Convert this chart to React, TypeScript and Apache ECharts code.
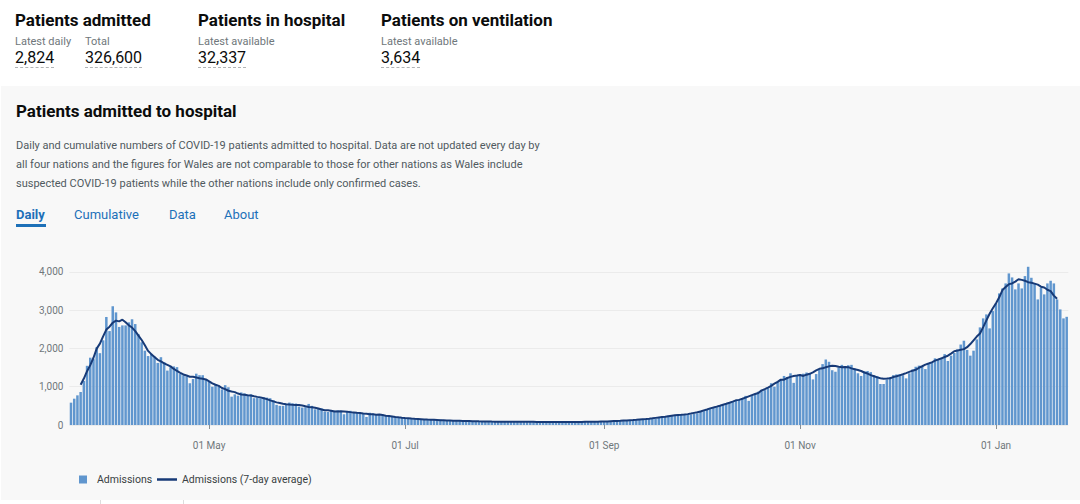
import React, { useEffect, useRef } from "react";
import * as echarts from "echarts";

// Daily admissions, 19 Mar 2020 – 23 Jan 2021
const mar = [583, 687, 774, 861, 1150, 1545, 1757, 1720, 2030, 1875, 2210, 2820, 2452];
const apr = [3100, 2940, 2560, 2600, 2600, 2680, 2760, 2635, 2370, 2160, 1940, 1800, 1860, 1790, 1620, 1770, 1640, 1420, 1510, 1530, 1510, 1330, 1300, 1270, 1090, 1200, 1340, 1300, 1300, 1195];
const may = [1130, 1000, 1060, 1000, 930, 1040, 985, 740, 800, 765, 850, 825, 785, 800, 700, 715, 700, 720, 715, 700, 650, 525, 500, 500, 550, 585, 565, 560, 480, 455, 465];
const jun = [550, 500, 410, 435, 435, 350, 340, 365, 375, 385, 370, 280, 360, 370, 340, 330, 300, 310, 210, 320, 300, 280, 260, 270, 250, 230, 220, 200, 210, 190];
const jul = [180, 175, 170, 160, 165, 150, 140, 145, 135, 130, 125, 140, 120, 115, 118, 112, 110, 108, 105, 105, 100, 98, 95, 100, 92, 90, 88, 95, 85, 88, 84];
const aug = [88, 84, 90, 92, 88, 84, 82, 80, 78, 84, 86, 82, 80, 78, 76, 74, 80, 82, 84, 80, 78, 76, 75, 78, 82, 84, 86, 84, 82, 80, 86];
const sep = [95, 100, 105, 98, 96, 110, 115, 125, 130, 135, 128, 130, 145, 160, 175, 180, 170, 185, 205, 225, 245, 240, 235, 260, 275, 290, 280, 275, 300, 305];
const oct = [370, 390, 410, 430, 460, 480, 500, 520, 550, 580, 610, 640, 670, 700, 760, 630, 780, 820, 870, 890, 910, 960, 1090, 1000, 1120, 1190, 1280, 1250, 1350, 1100, 1300];
const nov = [1320, 1340, 1370, 1350, 1190, 1330, 1450, 1590, 1710, 1650, 1430, 1390, 1500, 1570, 1540, 1560, 1570, 1480, 1350, 1280, 1400, 1410, 1380, 1300, 1280, 1070, 1070, 1190, 1250, 1300];
const dec = [1320, 1330, 1300, 1217, 1350, 1450, 1520, 1550, 1540, 1460, 1590, 1630, 1740, 1720, 1760, 1850, 1670, 1810, 1880, 1975, 2100, 2200, 1960, 1810, 1940, 2235, 2548, 2783, 2887, 2522, 2974];
const jan = [3174, 3435, 3565, 3696, 3957, 3852, 3540, 3696, 3565, 3887, 4130, 3843, 3696, 3278, 3590, 3409, 3696, 3765, 3696, 3278, 3017, 2783, 2824];

const admissions = [...mar, ...apr, ...may, ...jun, ...jul, ...aug, ...sep, ...oct, ...nov, ...dec, ...jan];

const startDate = "2020-03-19";
const xTickLabels: Record<string, string> = {
  "2020-05-01": "01 May",
  "2020-07-01": "01 Jul",
  "2020-09-01": "01 Sep",
  "2020-11-01": "01 Nov",
  "2021-01-01": "01 Jan",
};
const yTicks = [0, 1000, 2000, 3000, 4000];

const dates: string[] = (() => {
  const out: string[] = [];
  const d = new Date(startDate + "T00:00:00Z");
  for (let i = 0; i < admissions.length; i++) {
    out.push(d.toISOString().slice(0, 10));
    d.setUTCDate(d.getUTCDate() + 1);
  }
  return out;
})();

// centred 7-day rolling average of the daily values
const avg7 = admissions.map((_, i) => {
  if (i < 3 || i > admissions.length - 4) return null;
  let s = 0;
  for (let k = i - 3; k <= i + 3; k++) s += admissions[k];
  return Math.round(s / 7);
});

const FONT = 'Roboto, "Noto Sans", sans-serif';

function Chart() {
  const ref = useRef<HTMLDivElement>(null);
  useEffect(() => {
    if (!ref.current) return;
    const chart = echarts.init(ref.current, undefined, { renderer: "svg" });
    const isTick = (_i: number, v: string) => v in xTickLabels;
    chart.setOption({
      animation: false,
      textStyle: { fontFamily: FONT },
      grid: { left: 69.4, right: 11.7, top: 14.1, bottom: 75, containLabel: false },
      legend: [
        {
          data: ["Admissions"],
          left: 74,
          top: 219,
          itemWidth: 8,
          itemHeight: 8,
          itemGap: 0,
          icon: "rect",
          textStyle: { fontSize: 10.5, color: "#383f43", fontFamily: FONT, padding: [0, 0, 0, 5] },
        },
        {
          data: ["Admissions (7-day average)"],
          left: 152,
          top: 219,
          itemWidth: 20,
          itemHeight: 2.5,
          icon: "rect",
          textStyle: { fontSize: 10.5, color: "#383f43", fontFamily: FONT },
        },
      ],
      xAxis: {
        type: "category",
        data: dates,
        boundaryGap: true,
        offset: 8,
        axisLine: { show: false },
        axisTick: {
          show: true,
          interval: isTick,
          alignWithLabel: true,
          length: 4,
          lineStyle: { color: "#8a8f92", width: 1 },
        },
        axisLabel: {
          interval: isTick,
          formatter: (v: string) => xTickLabels[v] || "",
          color: "#6f777b",
          fontSize: 10,
          margin: 7,
          fontFamily: FONT,
        },
        splitLine: { show: false },
      },
      yAxis: {
        type: "value",
        min: 0,
        max: 4200,
        interval: 1000,
        axisLine: { show: false },
        axisTick: { show: false },
        axisLabel: {
          color: "#6f777b",
          fontSize: 10,
          margin: 6,
          fontFamily: FONT,
          showMaxLabel: false,
          formatter: (v: number) => (yTicks.includes(v) ? v.toLocaleString("en-GB") : ""),
        },
        splitLine: { show: true, showMaxLine: false, lineStyle: { color: "#ebebeb", width: 1 } },
      },
      series: [
        {
          name: "Admissions",
          type: "bar",
          data: admissions,
          barCategoryGap: "22%",
          itemStyle: { color: "#6096ce" },
        },
        {
          name: "Admissions (7-day average)",
          type: "line",
          data: avg7,
          showSymbol: false,
          symbol: "none",
          lineStyle: { color: "#173a77", width: 2 },
          itemStyle: { color: "#173a77" },
        },
      ],
    });
    return () => chart.dispose();
  }, []);
  return <div ref={ref} style={{ position: "absolute", left: 0, top: 250, width: 1080, height: 250 }} />;
}

const abs = (left: number, top: number, extra: React.CSSProperties = {}): React.CSSProperties => ({
  position: "absolute",
  left,
  top,
  whiteSpace: "nowrap",
  lineHeight: 1,
  ...extra,
});

function Kpi({ x, title, items }: { x: number; title: string; items: { x: number; label: string; value: string }[] }) {
  return (
    <>
      <div style={abs(x, 12, { fontSize: 17, fontWeight: 700, color: "#0b0c0c" })}>{title}</div>
      {items.map((it) => (
        <React.Fragment key={it.label + it.x}>
          <div style={abs(it.x, 36, { fontSize: 11, lineHeight: "12px", color: "#6f777b" })}>{it.label}</div>
          <div
            style={abs(it.x, 50, {
              fontSize: 16,
              color: "#0b0c0c",
              paddingBottom: 1,
              borderBottom: "1px dashed #b1b4b6",
            })}
          >
            {it.value}
          </div>
        </React.Fragment>
      ))}
    </>
  );
}

export default function App() {
  useEffect(() => {
    document.body.style.margin = "0";
  }, []);
  const desc = [
    "Daily and cumulative numbers of COVID-19 patients admitted to hospital. Data are not updated every day by",
    "all four nations and the figures for Wales are not comparable to those for other nations as Wales include",
    "suspected COVID-19 patients while the other nations include only confirmed cases.",
  ];
  return (
    <div style={{ position: "relative", width: 1080, height: 504, background: "#ffffff", fontFamily: FONT, overflow: "hidden" }}>
      <Kpi x={15} title="Patients admitted" items={[{ x: 15, label: "Latest daily", value: "2,824" }, { x: 85, label: "Total", value: "326,600" }]} />
      <Kpi x={198} title="Patients in hospital" items={[{ x: 198, label: "Latest available", value: "32,337" }]} />
      <Kpi x={381} title="Patients on ventilation" items={[{ x: 381, label: "Latest available", value: "3,634" }]} />

      <div style={{ position: "absolute", left: 1, top: 86, width: 1079, height: 414, background: "#f8f8f8" }} />
      <div style={abs(16, 103, { fontSize: 17, fontWeight: 700, color: "#0b0c0c" })}>Patients admitted to hospital</div>
      {desc.map((line, i) => (
        <div key={i} style={abs(16, 140 + i * 19, { fontSize: 11, color: "#505a5f" })}>
          {line}
        </div>
      ))}
      <div style={abs(16, 208, { fontSize: 13, fontWeight: 700, color: "#1d70b8" })}>Daily</div>
      <div style={{ position: "absolute", left: 16, top: 224, width: 30, height: 3, background: "#1d70b8" }} />
      <div style={abs(74, 208, { fontSize: 13, color: "#1d70b8" })}>Cumulative</div>
      <div style={abs(169, 208, { fontSize: 13, color: "#1d70b8" })}>Data</div>
      <div style={abs(224, 208, { fontSize: 13, color: "#1d70b8" })}>About</div>

      <Chart />

      <div style={{ position: "absolute", left: 0, top: 500, width: 1080, height: 4, background: "#ffffff" }} />
      <div style={{ position: "absolute", left: 100, top: 500, width: 1, height: 4, background: "#dddddd" }} />
      <div style={{ position: "absolute", left: 183, top: 500, width: 1, height: 4, background: "#dddddd" }} />
    </div>
  );
}
